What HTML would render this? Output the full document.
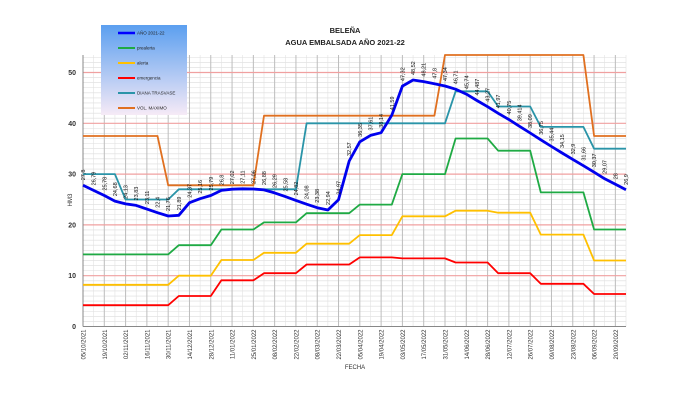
<!DOCTYPE html>
<html><head><meta charset="utf-8"><style>
html,body{margin:0;padding:0;background:#fff;}
svg{display:block;font-family:"Liberation Sans",sans-serif;}
</style></head><body>
<svg id="c" width="700" height="400" viewBox="0 0 700 400" xmlns="http://www.w3.org/2000/svg">
<defs><linearGradient id="lg" x1="0" y1="0" x2="0" y2="1"><stop offset="0" stop-color="#5b9ff0"/><stop offset="1" stop-color="#f6eaf6"/></linearGradient></defs>
<g id="grid"></g>
<g id="series"></g>
<g id="labels"></g>
<text x="345" y="33" font-size="7.5" font-weight="bold" text-anchor="middle" fill="#222">BELEÑA</text>
<text x="345" y="45" font-size="7.5" font-weight="bold" text-anchor="middle" fill="#222">AGUA EMBALSADA AÑO 2021-22</text>
<text transform="translate(72,200) rotate(-90)" font-size="6" text-anchor="middle" fill="#333">HM3</text>
<text x="355" y="369" font-size="6" text-anchor="middle" fill="#333">FECHA</text>
<rect x="101" y="25" width="86" height="90" fill="url(#lg)"/>
<g font-size="4.5" fill="#222">
<line x1="118" y1="33" x2="135" y2="33" stroke="#0000ff" stroke-width="2.5"/><text x="137" y="34.5">AÑO 2021-22</text>
<line x1="118" y1="48" x2="135" y2="48" stroke="#1faa44" stroke-width="2"/><text x="137" y="49.5">prealerta</text>
<line x1="118" y1="63" x2="135" y2="63" stroke="#ffc000" stroke-width="2"/><text x="137" y="64.5">alerta</text>
<line x1="118" y1="78" x2="135" y2="78" stroke="#ff0000" stroke-width="2"/><text x="137" y="79.5">emergencia</text>
<line x1="118" y1="93" x2="135" y2="93" stroke="#2a94a8" stroke-width="2"/><text x="137" y="94.5">DIANA TRASVASE</text>
<line x1="118" y1="108" x2="135" y2="108" stroke="#e07020" stroke-width="2"/><text x="137" y="109.5">VOL. MAXIMO</text>
</g>
</svg>
<script>
var X0=83,DX=(626-83)/51,Y0=326.5,K=5.08,TOP=55;
function X(i){return X0+i*DX;}function Y(v){return Y0-v*K;}
var ns="http://www.w3.org/2000/svg";
function el(p,t,a){var e=document.createElementNS(ns,t);for(var k in a)e.setAttribute(k,a[k]);p.appendChild(e);return e;}
var g=document.getElementById('grid');
for(var v=1;v<=53;v++){if(v%10==0)continue;el(g,'line',{x1:X0,x2:626,y1:Y(v),y2:Y(v),stroke:'#dcdcdc','stroke-width':0.6});}
for(var i=0;i<=51;i++){el(g,'line',{x1:X(i),x2:X(i),y1:TOP,y2:Y0,stroke:i%2==0?'#bdbdbd':'#e2e2e2','stroke-width':i%2==0?1:0.6});}
for(var v=10;v<=50;v+=10){el(g,'line',{x1:X0,x2:626,y1:Y(v),y2:Y(v),stroke:'#f0a0a0','stroke-width':1.2});}
el(g,'line',{x1:X0,x2:X0,y1:TOP,y2:Y0,stroke:'#888','stroke-width':1});
el(g,'line',{x1:X0,x2:626,y1:Y0,y2:Y0,stroke:'#888','stroke-width':1});
for(var v=0;v<=50;v+=10){var t=el(g,'text',{x:76,y:Y(v)+2.5,'font-size':7,'font-weight':'bold','text-anchor':'end',fill:'#333'});t.textContent=v;}
var d=new Date(2021,9,5);
for(var i=0;i<=50;i+=2){var dd=new Date(d.getTime()+i*7*864e5+3600e3*12);
var s=('0'+dd.getDate()).slice(-2)+'/'+('0'+(dd.getMonth()+1)).slice(-2)+'/'+dd.getFullYear();
var t=el(g,'text',{transform:'translate('+(X(i)+2.5)+','+(Y0+3)+') rotate(-90)','font-size':6,'text-anchor':'end',fill:'#333'});t.textContent=s;}
function steps(segs){var a=[];for(var k=0;k<segs.length;k++){var s=segs[k];for(var i=s[0];i<=s[1];i++)a[i]=s[2];}return a;}
function poly(arr,col,w){var p=[];for(var i=0;i<arr.length;i++){if(arr[i]!=null)p.push(X(i).toFixed(1)+','+Math.max(TOP,Y(arr[i])).toFixed(1));}
el(document.getElementById('series'),'polyline',{points:p.join(' '),fill:'none',stroke:col,'stroke-width':w,'stroke-linejoin':'round'});}
poly(steps([[0,8,14.2],[9,12,16],[13,16,19.1],[17,20,20.5],[21,25,22.3],[26,29,24],[30,34,30],[35,38,37],[39,42,34.6],[43,47,26.4],[48,51,19.1]]),'#1faa44',1.8);
poly(steps([[0,8,8.2],[9,12,10],[13,16,13.1],[17,20,14.5],[21,25,16.3],[26,29,18],[30,34,21.7],[35,38,22.8],[39,42,22.4],[43,47,18.1],[48,51,13]]),'#ffc000',1.8);
poly(steps([[0,8,4.2],[9,12,6],[13,16,9.1],[17,20,10.5],[21,25,12.2],[26,29,13.6],[30,34,13.4],[35,38,12.6],[39,42,10.5],[43,47,8.4],[48,51,6.4]]),'#ff0000',1.8);
poly(steps([[0,3,30],[4,8,25],[9,20,27],[21,34,40],[35,38,46.3],[39,42,43.3],[43,47,39.3],[48,51,35]]),'#2a94a8',1.8);
poly(steps([[0,7,37.5],[8,16,27.8],[17,33,41.5],[34,47,60],[48,51,37.5]]),'#e07020',1.8);
var b=[27.8,26.79,25.78,24.68,24.13,23.83,23.11,22.4,21.76,21.89,24.37,25.16,25.79,26.8,27.02,27.11,27.06,26.88,26.29,25.58,24.82,24.08,23.38,22.94,24.97,32.57,36.35,37.61,38.14,41.59,47.32,48.52,48.21,47.8,47.34,46.71,45.74,44.487,43.27,41.97,40.75,39.414,38.09,36.75,35.44,34.15,32.9,31.66,30.37,29.07,28,26.9];
poly(b,'#0000ee',2.8);
var L=document.getElementById('labels');
for(var i=0;i<b.length;i++){var t=el(L,'text',{transform:'translate('+(X(i)+2)+','+(Y(b[i])-5)+') rotate(-90)','font-size':5.5,fill:'#111'});t.textContent=String(b[i]).replace('.',',');}
</script>
</body></html>
